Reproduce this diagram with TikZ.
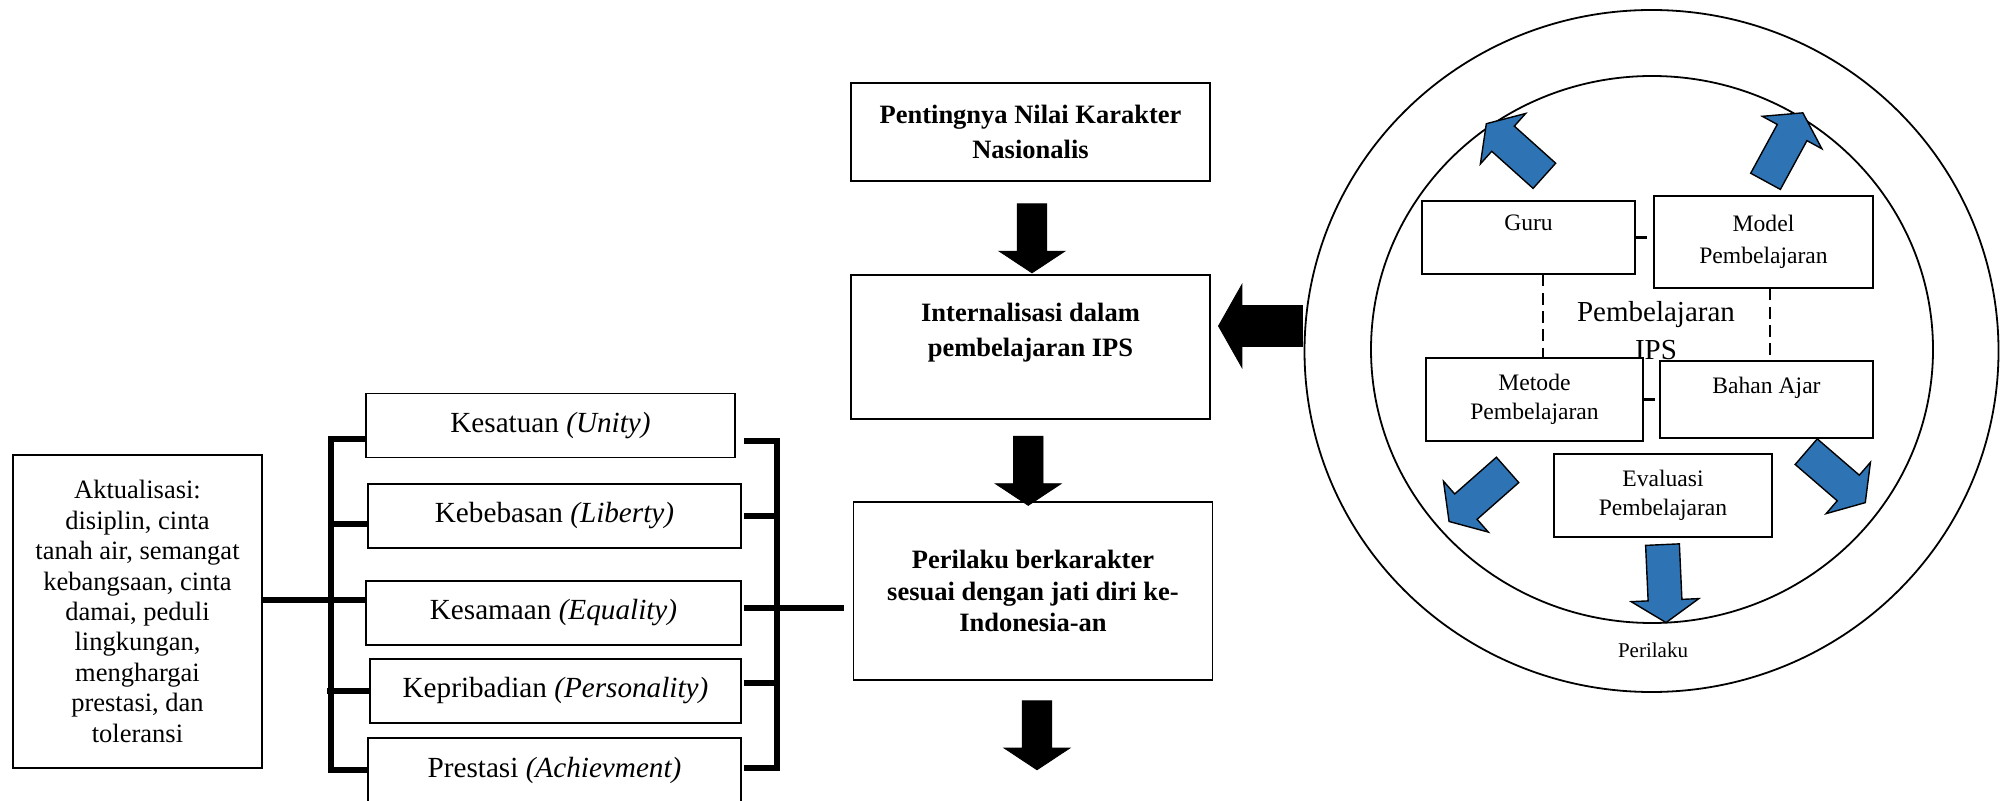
\documentclass[tikz,border=0pt]{standalone}
\usepackage{fontspec}
\setmainfont{Liberation Serif}
\usetikzlibrary{shapes.geometric, shapes.arrows, positioning, calc}
\definecolor{arrowblue}{HTML}{2E74B5}
\tikzset{
    flowbox/.style={rectangle, draw, line width=0.9pt, align=center, inner sep=0pt, minimum width=179.5pt, font=\bfseries\fontsize{13.25}{17.5}\selectfont},
    valuebox/.style={rectangle, draw, line width=0.9pt, align=center, inner sep=0pt, minimum height=32pt, font=\fontsize{14.6}{17}\selectfont},
    innerbox/.style={rectangle, draw, line width=0.85pt, fill=white, align=center, inner sep=0pt, font=\fontsize{11.8}{14.5}\selectfont},
    ring/.style={ellipse, draw, line width=0.9pt, inner sep=0pt},
    bracket/.style={line width=2.6pt},
    link/.style={line width=1.2pt, dash pattern=on 5.8pt off 3.3pt},
    downarrow/.style={single arrow, draw, fill=black, inner xsep=0pt, inner ysep=7.2pt, rotate=-90, minimum height=34.5pt, single arrow head extend=9pt, single arrow tip angle=113},
    bluearrow/.style={single arrow, draw=black, line width=0.7pt, fill=arrowblue, inner xsep=0pt, inner ysep=8.1pt, minimum height=39pt, single arrow head extend=8.5pt, single arrow tip angle=113}
}

\begin{document}
\begin{tikzpicture}[x=0.5pt, y=-0.5pt]
    \useasboundingbox (0,0) rectangle (2007,801);
    \clip (0,0) rectangle (2007,801);

    % left: actualisation and the five values
    \node[rectangle, draw, line width=0.9pt, minimum width=124.5pt, minimum height=156.5pt, inner sep=0pt, align=center, font=\fontsize{13.25}{15.2}\selectfont] (aktual) at (137.5,611.5)
        {Aktualisasi:\\disiplin, cinta\\tanah air, semangat\\kebangsaan, cinta\\damai, peduli\\lingkungan,\\menghargai\\prestasi, dan\\toleransi};
    \node[valuebox, minimum width=184.5pt] (kesatuan) at (550.5,425.5) {Kesatuan \textit{(Unity)}};
    \node[valuebox, minimum width=186.5pt] (kebebasan) at (554.5,516) {Kebebasan \textit{(Liberty)}};
    \node[valuebox, minimum width=187.5pt] (kesamaan) at (553.5,613) {Kesamaan \textit{(Equality)}};
    \node[valuebox, minimum width=185.5pt] (kepribadian) at (555.5,691) {Kepribadian \textit{(Personality)}};
    \node[valuebox, minimum width=186.5pt] (prestasi) at (554.5,770) {Prestasi \textit{(Achievment)}};

    % middle: main flow
    \node[flowbox, minimum height=49pt] (pentingnya) at (1030.5,132) {Pentingnya Nilai Karakter\\Nasionalis};
    \node[flowbox, minimum height=72pt] (internal) at (1030.5,347) {Internalisasi dalam\\pembelajaran IPS\\~};
    \node[flowbox, minimum height=89pt, font=\bfseries\fontsize{13.25}{15.8}\selectfont] (perilaku) at (1033,591) {Perilaku berkarakter\\sesuai dengan jati diri ke-\\Indonesia-an};

    % right: learning circle
    \node[ring, minimum width=347pt, minimum height=341pt] (outer) at (1651.5,351) {};
    \node[ring, minimum width=281pt, minimum height=273.5pt] (inner) at (1652,349.5) {};
    \node[font=\fontsize{14.5}{19}\selectfont, align=center, inner sep=0pt] (ips) at (1656,331) {Pembelajaran\\IPS};
    \node[font=\fontsize{10.5}{12}\selectfont, anchor=base, inner sep=0pt] (perilakutxt) at (1653,657) {Perilaku};

    \node[bluearrow, rotate=138.1] (bguru) at (1519.5,153.5) {};
    \node[bluearrow, rotate=61.4] (bmodel) at (1781.5,152) {};
    \node[bluearrow, rotate=221.4] (bmetode) at (1482.5,492) {};
    \node[bluearrow, rotate=-40.8] (bbahan) at (1831.5,473.5) {};
    \node[bluearrow, rotate=-87.4] (beval) at (1664,578) {};

    \node[innerbox, minimum width=106.5pt, minimum height=36.5pt] (guru) at (1528.5,237.5) {Guru\\~};
    \node[innerbox, minimum width=109.5pt, minimum height=46pt, font=\fontsize{11.8}{16}\selectfont] (model) at (1763.5,242) {Model\\Pembelajaran};
    \node[innerbox, minimum width=108.5pt, minimum height=41.5pt] (metode) at (1534.5,399.5) {Metode\\Pembelajaran};
    \node[innerbox, minimum width=106.5pt, minimum height=38.5pt] (bahan) at (1766.5,399.5) {Bahan Ajar\\~};
    \node[innerbox, minimum width=109pt, minimum height=41.5pt] (evaluasi) at (1663,495.5) {Evaluasi\\Pembelajaran};

    \draw[link] (guru.east) -- (guru.east -| model.west);
    \draw[link] (metode.east) -- (metode.east -| bahan.west);
    \draw[link] ([xshift=7.25pt]guru.south) -- ([xshift=7.25pt]guru.south |- metode.north);
    \draw[link] ([xshift=3.25pt]model.south) -- ([xshift=3.25pt]model.south |- bahan.north);

    % block arrows of the flow
    \node[downarrow] (ar1) at ([xshift=0.75pt, yshift=-2.75pt]$(pentingnya.south)!0.5!(internal.north)$) {};
    \node[downarrow] (ar2) at ([xshift=-1.75pt, yshift=-2.75pt]$(internal.south)!0.5!(perilaku.north)$) {};
    \node[downarrow] (ar3) at ([xshift=2pt, yshift=-24.75pt]perilaku.south) {};
    \node[single arrow, draw, fill=black, inner xsep=0pt, inner ysep=10pt, rotate=180, minimum height=42pt, single arrow head extend=10.5pt, single arrow tip angle=121] (ar4)
        at ([xshift=4.5pt, yshift=10.5pt]$(internal.east)!0.5!(internal.east -| outer.west)$) {};

    % brackets joining the values
    \coordinate (lb) at (331,0);
    \coordinate (rb) at (777,0);
    \draw[bracket] ([yshift=-6.75pt]kesatuan.west) -| (prestasi.west -| lb) -- (prestasi.west);
    \draw[bracket] ([yshift=-4pt]kebebasan.west) -- ([yshift=-4pt]kebebasan.west -| lb);
    \draw[bracket] ([yshift=5.75pt]aktual.east) -- ([yshift=6.5pt]kesamaan.west);
    \draw[bracket] (kepribadian.west) -- ([xshift=-2pt]kepribadian.west -| lb);
    \draw[bracket] ([xshift=4pt, yshift=-7.75pt]kesatuan.east) -| ([yshift=1pt]prestasi.east -| rb) -- ([xshift=1pt, yshift=1pt]prestasi.east);
    \draw[bracket] ([xshift=1pt]kebebasan.east) -- (kebebasan.east -| rb);
    \draw[bracket] ([xshift=1pt, yshift=4pt]kepribadian.east) -- ([yshift=4pt]kepribadian.east -| rb);
    \draw[bracket, shorten >=4.5pt] ([xshift=1pt, yshift=2.5pt]kesamaan.east) -- ([yshift=2.5pt]kesamaan.east -| perilaku.west);
\end{tikzpicture}
\end{document}
